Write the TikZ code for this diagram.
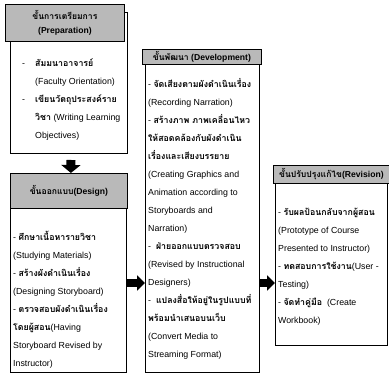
\documentclass[tikz,border=0pt]{standalone}
\usepackage{fontspec}
\setmainfont{Liberation Sans}
\newfontfamily\thfont[Script=Thai]{Loma}
\newcommand\tht[1]{{\thfont\bfseries #1}}
\usetikzlibrary{arrows.meta}
\tikzset{
  hdr/.style={draw=black, line width=0.8pt, fill=gray!55, inner sep=0pt, anchor=north west, font=\fontsize{8.6}{14}\selectfont\bfseries, align=center},
  bodybox/.style={draw=black, line width=1pt, fill=white, inner sep=0pt, anchor=north west},
  ln/.style={anchor=base west, inner sep=0pt, font=\fontsize{8.8}{10}\selectfont},
  blockarrow/.style={line width=7.5pt, -{Triangle[length=8pt,width=15pt]}},
  downarrow/.style={line width=9pt, -{Triangle[length=8pt,width=19pt]}},
}
\begin{document}
\begin{tikzpicture}[x=1pt,y=-1pt]
\useasboundingbox (0,0) rectangle (389,374);
% ---------- Preparation
\node[bodybox, minimum width=117pt, minimum height=141pt] (prepbody) at (10,12) {};
\node[hdr, minimum width=119pt, minimum height=37pt] (prephead) at (5,4) {\tht{ขั้นการเตรียมการ}\\(Preparation)};
\node[ln] (pd1) at (22,66.3) {-};
\node[ln] (p1) at (35,66.3) {\tht{สัมมนาอาจารย์}};
\node[ln] (p2) at (35,84.3) {(Faculty Orientation)};
\node[ln] (pd3) at (22,102.3) {-};
\node[ln] (p3) at (35,102.3) {\tht{เขียนวัตถุประสงค์ราย}};
\node[ln] (p4) at (35,120.3) {\tht{วิชา} (Writing Learning};
\node[ln] (p5) at (35,138.3) {Objectives)};
% ---------- Design
\node[bodybox, minimum width=116pt, minimum height=164pt] (desbody) at (10,208) {};
\node[hdr, minimum width=117pt, minimum height=35pt] (deshead) at (10,173) {\tht{ขั้นออกแบบ}(Design)};
\foreach [count=\i] \t in {
  {- \tht{ศึกษาเนื้อหารายวิชา}},
  {(Studying Materials)},
  {- \tht{สร้างผังดำเนินเรื่อง}},
  {(Designing Storyboard)},
  {- \tht{ตรวจสอบผังดำเนินเรื่อง}},
  {\tht{โดยผู้สอน}(Having},
  {Storyboard Revised by},
  {Instructor)}}
  {\node[ln] (des\i) at (13,{237+18*(\i-1)+3.3}) {\t};}
% ---------- Development
\node[bodybox, minimum width=114pt, minimum height=308pt] (devbody) at (145,64) {};
\node[hdr, minimum width=119pt, minimum height=15pt] (devhead) at (142,49) {\tht{ขั้นพัฒนา} (Development)};
\foreach [count=\i] \t in {
  {- \tht{จัดเสียงตามผังดำเนินเรื่อง}},
  {(Recording Narration)},
  {- \tht{สร้างภาพ ภาพเคลื่อนไหว}},
  {\tht{ให้สอดคล้องกับผังดำเนิน}},
  {\tht{เรื่องและเสียงบรรยาย}},
  {(Creating Graphics and},
  {Animation according to},
  {Storyboards and},
  {Narration)},
  {-\ \ \tht{ฝ่ายออกแบบตรวจสอบ}},
  {(Revised by Instructional},
  {Designers)},
  {-\ \ \tht{แปลงสื่อให้อยู่ในรูปแบบที่}},
  {\tht{พร้อมนำเสนอบนเว็บ}},
  {(Convert Media to},
  {Streaming Format)}}
  {\node[ln] (dev\i) at (148,{84+18*(\i-1)+3.3}) {\t};}
% ---------- Revision
\node[bodybox, minimum width=112pt, minimum height=162pt] (revbody) at (275,183) {};
\node[hdr, minimum width=116pt, minimum height=18pt] (revhead) at (273,165) {\tht{ขั้นปรับปรุงแก้ไข}(Revision)};
\foreach [count=\i] \t in {
  {- \tht{รับผลป้อนกลับจากผู้สอน}},
  {(Prototype of Course},
  {Presented to Instructor)},
  {- \tht{ทดสอบการใช้งาน}(User -},
  {Testing)},
  {- \tht{จัดทำคู่มือ}\ \ (Create},
  {Workbook)}}
  {\node[ln] (rev\i) at (278,{212+18*(\i-1)+3.3}) {\t};}
% ---------- Arrows
\coordinate (arrowrow) at (0,283);
\draw[downarrow] ([xshift=2pt,yshift=-6pt]prepbody.south) -- ([xshift=2pt]deshead.north);
\draw[blockarrow] (desbody.east |- arrowrow) -- (devbody.west |- arrowrow);
\draw[blockarrow] (devbody.east |- arrowrow) -- (revbody.west |- arrowrow);
\end{tikzpicture}
\end{document}
